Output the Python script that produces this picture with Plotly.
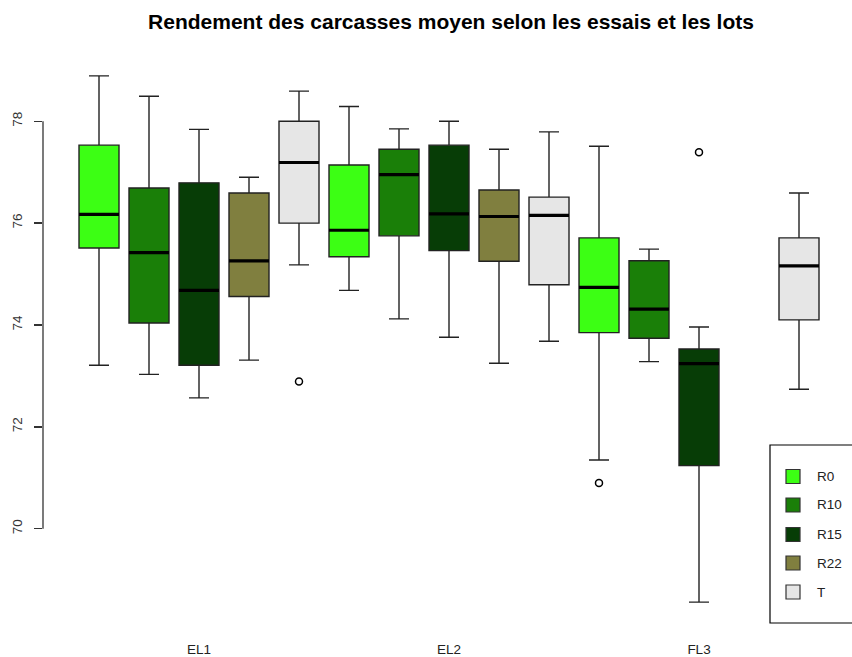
import plotly.graph_objects as go

# ---------------- data ----------------
groups = ["EL1", "EL2", "FL3"]
series = ["R0", "R10", "R15", "R22", "T"]
colors = ["#3CFF14", "#1A7F08", "#073D06", "#807F3F", "#E6E6E6"]

# order: group by group, series inside (None = missing box)
lower  = [73.21, 73.03, 72.57, 73.31, 75.18,  74.68, 74.12, 73.76, 73.25, 73.68,  71.35, 73.28, 68.56, None, 72.74]
q1     = [75.51, 74.04, 73.21, 74.56, 76.00,  75.34, 75.75, 75.46, 75.25, 74.79,  73.85, 73.74, 71.24, None, 74.10]
median = [76.17, 75.42, 74.68, 75.26, 77.19,  75.86, 76.95, 76.18, 76.13, 76.15,  74.74, 74.31, 73.24, None, 75.16]
q3     = [77.53, 76.69, 76.79, 76.59, 78.00,  77.14, 77.45, 77.53, 76.65, 76.51,  75.71, 75.26, 73.53, None, 75.71]
upper  = [78.89, 78.49, 77.84, 76.90, 78.59,  78.29, 77.85, 78.00, 77.45, 77.79,  77.51, 75.49, 73.96, None, 76.59]

out_group  = ["EL1", "FL3", "FL3"]
out_series = ["T", "R0", "R15"]
out_value  = [72.89, 70.90, 77.39]

y_ticks = [70, 72, 74, 76, 78]
title = "Rendement des carcasses moyen selon les essais et les lots"

# ---------------- layout helpers ----------------
W, H = 852, 657
ML, MR, MT, MB = 43, 0, 55, 34
BOXW = 0.8
ns = len(series)


def pos(gi, si):
    return gi * ns + si + 1


def px_x(p):  # page pixel -> paper x
    return (p - ML) / (W - ML - MR)


def px_y(p):  # page pixel -> paper y
    return (H - MB - p) / (H - MT - MB)


fig = go.Figure()

for si, s in enumerate(series):
    xs, lo, a, m, b, hi = [], [], [], [], [], []
    for gi, g in enumerate(groups):
        k = gi * ns + si
        if median[k] is None:
            continue
        xs.append(pos(gi, si))
        lo.append(lower[k]); a.append(q1[k]); m.append(median[k])
        b.append(q3[k]); hi.append(upper[k])
    fig.add_trace(go.Box(
        x=xs, lowerfence=lo, q1=a, median=m, q3=b, upperfence=hi,
        width=BOXW, whiskerwidth=0.5, fillcolor=colors[si],
        line=dict(color="#222222", width=1.4), name=s, showlegend=False,
        boxpoints=False, hoverinfo="skip"))
    # thick median lines
    mx, my = [], []
    for x, v in zip(xs, m):
        mx += [x - BOXW / 2, x + BOXW / 2, None]
        my += [v, v, None]
    fig.add_trace(go.Scatter(x=mx, y=my, mode="lines",
                             line=dict(color="black", width=3.2),
                             showlegend=False, hoverinfo="skip"))

# outliers
fig.add_trace(go.Scatter(
    x=[pos(groups.index(g), series.index(s)) for g, s in zip(out_group, out_series)],
    y=out_value, mode="markers",
    marker=dict(symbol="circle-open", size=7, color="black", line=dict(width=1.5)),
    showlegend=False, hoverinfo="skip"))

shapes = []
# y axis line from first to last tick
shapes.append(dict(type="line", xref="paper", yref="y", x0=0, x1=0,
                   y0=y_ticks[0], y1=y_ticks[-1], line=dict(color="#333333", width=1.3)))

# legend box
shapes.append(dict(type="rect", xref="paper", yref="paper",
                   x0=px_x(770), x1=px_x(900), y0=px_y(623), y1=px_y(445),
                   line=dict(color="black", width=1.2), fillcolor="white", layer="above"))
annotations = []
leg_y = [476.5, 505, 534.5, 563, 592]
for si, s in enumerate(series):
    yc = leg_y[si]
    shapes.append(dict(type="rect", xref="paper", yref="paper",
                       x0=px_x(786), x1=px_x(800), y0=px_y(yc + 7), y1=px_y(yc - 7),
                       line=dict(color="#333333", width=1.2), fillcolor=colors[si], layer="above"))
    annotations.append(dict(text=s, xref="paper", yref="paper", x=px_x(815), y=px_y(yc),
                            xanchor="left", yanchor="middle", showarrow=False,
                            font=dict(size=13.5, color="#222222")))

fig.update_layout(
    width=W, height=H,
    margin=dict(l=ML, r=MR, t=MT, b=MB),
    paper_bgcolor="white", plot_bgcolor="white",
    font=dict(family="Liberation Sans, Arial, sans-serif", color="#222222"),
    title=dict(text=title, x=451 / W, xref="container", xanchor="center",
               y=1 - 22 / H, yref="container", yanchor="middle",
               font=dict(size=21, color="black", weight="bold")),
    boxmode="overlay",
    shapes=shapes, annotations=annotations,
)
fig.update_xaxes(range=[(ML - 49) / 50, (W - MR - 49) / 50], showgrid=False,
                 zeroline=False, showline=False,
                 tickvals=[pos(gi, 2) for gi in range(len(groups))],
                 ticktext=groups, ticks="outside", ticklen=14, tickcolor="rgba(0,0,0,0)",
                 tickfont=dict(size=13.5, color="#222222"))
fig.update_yaxes(range=[68.15, 79.30], showgrid=False, zeroline=False, showline=False,
                 tickvals=y_ticks, ticks="outside", ticklen=8, tickwidth=1.3, tickcolor="#333333",
                 tickangle=-90, ticklabelstandoff=7, tickfont=dict(size=13.5, color="#333333"))

fig.write_html("out.html", config={"displayModeBar": False, "staticPlot": True},
               post_script="document.body.style.margin='0';document.body.style.overflow='hidden';")
